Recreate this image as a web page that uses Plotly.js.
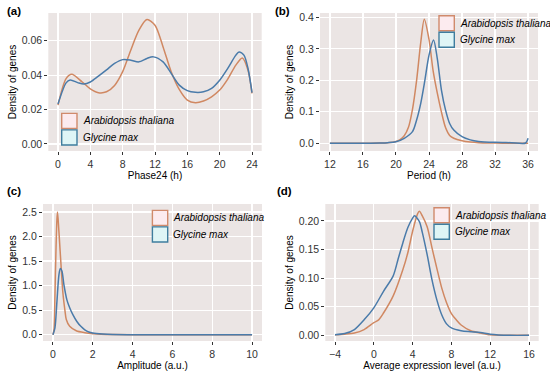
<!DOCTYPE html>
<html><head><meta charset="utf-8">
<script src="https://cdn.plot.ly/plotly-3.0.1.min.js"></script>
<style>html,body{margin:0;padding:0;background:#fff}#chart{width:550px;height:377px}</style>
</head><body><div id="chart"></div>
<script>
const seriesNames = ["Arabidopsis thaliana", "Glycine max"];
const panelLabels = ["(a)", "(b)", "(c)", "(d)"];
const xTitles = ["Phase24 (h)", "Period (h)", "Amplitude (a.u.)", "Average expression level (a.u.)"];
const yTitle = "Density of genes";

// (a) Phase
const phaseAtX = [0, 1, 1.7, 3, 4, 5, 6, 7, 8, 9, 10, 11, 12, 13, 14, 15, 16, 17, 18, 19, 20, 21, 22, 22.8, 23.5, 24];
const phaseAt  = [0.0226, 0.038, 0.0405, 0.036, 0.032, 0.0298, 0.0303, 0.034, 0.042, 0.0545, 0.066, 0.0723, 0.069, 0.0564, 0.042, 0.0317, 0.0255, 0.024, 0.025, 0.0274, 0.0313, 0.0377, 0.0458, 0.0500, 0.043, 0.0294];
const phaseGmX = [0, 1, 1.5, 2.5, 3.2, 4, 5, 6, 7, 8, 9, 10, 11, 11.8, 13, 14, 15, 16, 17, 18, 19, 20, 21, 22, 22.4, 23, 23.5, 24];
const phaseGm  = [0.0232, 0.0355, 0.0372, 0.0355, 0.0348, 0.036, 0.0394, 0.043, 0.0468, 0.049, 0.0487, 0.0477, 0.0497, 0.0506, 0.0477, 0.041, 0.0342, 0.031, 0.030, 0.0303, 0.0323, 0.037, 0.0439, 0.0516, 0.0535, 0.0516, 0.044, 0.0298];

// (b) Period
const perAtX = [12, 14, 16, 18, 19, 20, 20.5, 21, 21.5, 22, 22.5, 23, 23.43, 24, 24.5, 25, 25.5, 26, 26.5, 27, 28, 29, 30, 32, 34, 36];
const perAt  = [0, 0, 0, 0.001, 0.002, 0.006, 0.012, 0.024, 0.05, 0.108, 0.2, 0.32, 0.394, 0.33, 0.23, 0.16, 0.1, 0.05, 0.025, 0.016, 0.008, 0.004, 0.002, 0.001, 0, 0];
const perGmX = [12, 14, 16, 18, 19, 20, 21, 22, 22.5, 23, 23.5, 24, 24.55, 25, 25.5, 26, 26.5, 27, 28, 29, 30, 32, 34, 35.7, 36];
const perGm  = [0, 0, 0, 0.001, 0.002, 0.005, 0.016, 0.037, 0.074, 0.127, 0.2, 0.28, 0.328, 0.27, 0.17, 0.106, 0.063, 0.042, 0.021, 0.011, 0.006, 0.003, 0.002, 0.001, 0.016];

// (c) Amplitude
const ampAtX = [0, 0.05, 0.1, 0.15, 0.2, 0.23, 0.3, 0.42, 0.5, 0.6, 0.67, 0.84, 1.17, 1.6, 2, 3, 5, 10];
const ampAt  = [0, 0.1, 0.8, 1.7, 2.35, 2.5, 2.1, 1.32, 0.85, 0.5, 0.31, 0.17, 0.08, 0.04, 0.02, 0.002, 0, 0];
const ampGmX = [0, 0.1, 0.2, 0.3, 0.37, 0.45, 0.55, 0.7, 0.85, 1.0, 1.2, 1.4, 1.6, 1.8, 2.0, 2.5, 3, 5, 10];
const ampGm  = [0, 0.14, 0.68, 1.22, 1.35, 1.3, 1.02, 0.71, 0.54, 0.41, 0.27, 0.17, 0.1, 0.055, 0.034, 0.014, 0.004, 0, 0];

// (d) Average expression
const expAtX = [-4, -3, -2, -1, 0, 0.5, 1, 2, 3, 3.5, 4, 4.5, 4.7, 5, 5.5, 6, 6.5, 7, 7.5, 8, 8.5, 9, 10, 11, 12, 14, 16];
const expAt  = [0.001, 0.002, 0.004, 0.01, 0.022, 0.027, 0.039, 0.069, 0.115, 0.144, 0.182, 0.212, 0.217, 0.209, 0.19, 0.153, 0.117, 0.083, 0.057, 0.038, 0.027, 0.018, 0.008, 0.004, 0.001, 0, 0];
const expGmX = [-4, -3, -2, -1, 0, 1, 2, 2.5, 3, 3.5, 4, 4.2, 4.7, 5, 5.5, 6, 6.5, 7, 7.5, 8, 9, 10, 11, 12, 14, 16];
const expGm  = [0.001, 0.003, 0.01, 0.027, 0.048, 0.077, 0.104, 0.133, 0.162, 0.188, 0.205, 0.209, 0.199, 0.18, 0.141, 0.097, 0.062, 0.036, 0.02, 0.013, 0.008, 0.0063, 0.005, 0.002, 0, 0];

const colAt = "#D08862", colGm = "#4A7BAA";
const keyFillAt = "#FCEBEF", keyFillGm = "#DFF5F6";
const keyLineAt = "#D08A6C", keyLineGm = "#3F7D9E";
const W = 550, H = 377;
const font = "Liberation Sans, Arial, sans-serif";

function line(x, y, col, i) {
  return {x: x, y: y, type: "scatter", mode: "lines", showlegend: false,
    xaxis: "x" + (i === 1 ? "" : i), yaxis: "y" + (i === 1 ? "" : i),
    line: {color: col, width: 1.5, shape: "spline", smoothing: 0.8}, hoverinfo: "skip"};
}
const data = [
  line(phaseAtX, phaseAt, colAt, 1), line(phaseGmX, phaseGm, colGm, 1),
  line(perAtX, perAt, colAt, 2), line(perGmX, perGm, colGm, 2),
  line(ampAtX, ampAt, colAt, 3), line(ampGmX, ampGm, colGm, 3),
  line(expAtX, expAt, colAt, 4), line(expGmX, expGm, colGm, 4)
];

// pixel boxes [left, right, top, bottom]
const boxes = [[48.3, 261.7, 13, 151], [320, 538, 13, 151], [43, 262, 204, 341], [325.3, 538.7, 204, 341]];
const xRanges = [[-1.2, 25.2], [10.8, 37.2], [-0.5, 10.5], [-5, 17]];
const yRanges = [[-0.0041, 0.0761], [-0.0244, 0.4137], [-0.1284, 2.663], [-0.00998, 0.2297]];
const xDt = [4, 4, 2, 4], yDt = [0.02, 0.1, 0.5, 0.05], yFmt = [".2f", ".1f", ".1f", ".2f"];

const layout = {width: W, height: H, margin: {l: 0, r: 0, t: 0, b: 0},
  paper_bgcolor: "#FFFFFF", plot_bgcolor: "#EBE5E4", showlegend: false,
  font: {family: font, size: 10, color: "#000"}, annotations: [], shapes: []};

const common = {ticks: "outside", ticklen: 3, tickwidth: 1, tickcolor: "#333333",
  showgrid: true, gridcolor: "#FFFFFF", gridwidth: 1.2, zeroline: false, showline: false,
  tickfont: {family: font, size: 10.5, color: "#333333"}, fixedrange: true};

boxes.forEach((b, k) => {
  const i = k + 1, s = i === 1 ? "" : String(i);
  layout["xaxis" + s] = Object.assign({}, common, {domain: [b[0] / W, b[1] / W], range: xRanges[k],
    anchor: "y" + s, tick0: 0, dtick: xDt[k],
    title: {text: xTitles[k], font: {family: font, size: 10, color: "#000"}, standoff: 3}});
  layout["yaxis" + s] = Object.assign({}, common, {domain: [1 - b[3] / H, 1 - b[2] / H], range: yRanges[k],
    anchor: "x" + s, tick0: 0, dtick: yDt[k], tickformat: yFmt[k],
    title: {text: yTitle, font: {family: font, size: 10, color: "#000"}, standoff: 3}});
});

// panel labels
const labPos = [[5, 11], [273, 11], [5, 191], [275, 191]];
labPos.forEach((p, k) => layout.annotations.push({xref: "paper", yref: "paper", x: p[0] / W, y: 1 - p[1] / H,
  xanchor: "left", yanchor: "middle", showarrow: false, text: "<b>" + panelLabels[k] + "</b>",
  font: {family: font, size: 11.5, color: "#000"}}));

// legends: [keyLeft, keyTop]
const legPos = [[61, 112.7], [438.3, 15], [151.7, 209.7], [433.3, 207]];
const keyW = 16.7, keyH = 16.5;
legPos.forEach((p) => {
  [[keyFillAt, keyLineAt, seriesNames[0]], [keyFillGm, keyLineGm, seriesNames[1]]].forEach((e, j) => {
    const top = p[1] + j * keyH;
    layout.shapes.push({type: "rect", xref: "paper", yref: "paper",
      x0: (p[0] + 0.7) / W, x1: (p[0] + keyW - 0.7) / W, y0: 1 - (top + 0.7) / H, y1: 1 - (top + keyH - 0.7) / H,
      fillcolor: e[0], line: {color: e[1], width: 1.4}});
    layout.annotations.push({xref: "paper", yref: "paper", x: (p[0] + keyW + 3) / W, y: 1 - (top + keyH / 2) / H,
      xanchor: "left", yanchor: "middle", showarrow: false, text: "<i>" + e[2] + "</i>",
      font: {family: font, size: 10, color: "#000"}});
  });
});

Plotly.newPlot("chart", data, layout, {displayModeBar: false, staticPlot: true});
</script></body></html>
